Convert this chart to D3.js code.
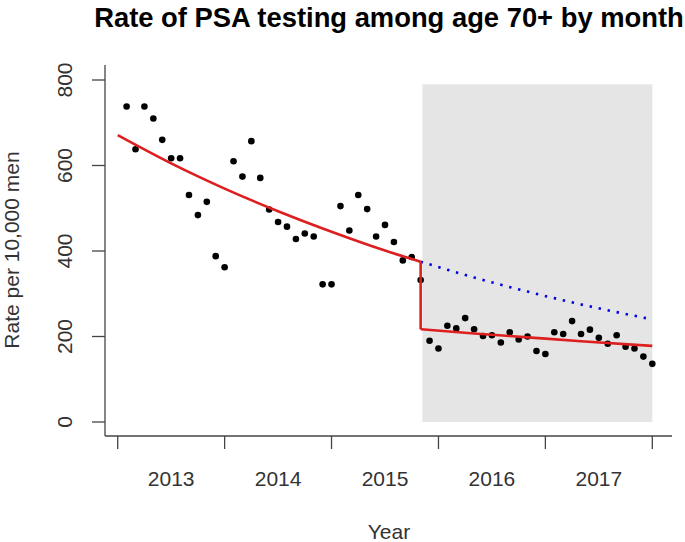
<!DOCTYPE html>
<html>
<head>
<meta charset="utf-8">
<script src="https://cdn.jsdelivr.net/npm/d3@7"></script>
<style>
  html, body { margin: 0; padding: 0; background: #fff; }
  svg { display: block; font-family: "Liberation Sans", Arial, sans-serif; }
</style>
</head>
<body>
<svg id="chart" width="685" height="542"></svg>
<script>
// ---- data (month index 1 = Jan 2013) ----
const months = d3.range(1, 61);
const rates = [
  738, 638, 738, 710, 660, 617, 617, 531, 484, 515, 388, 362,
  610, 574, 657, 571, 497, 468, 457, 428, 441, 434, 322, 322,
  505, 448, 531, 498, 434, 461, 421, 378, 386, 332,
  190, 172, 225, 219, 243, 217, 201, 203, 186, 210, 193, 200,
  166, 159, 210, 206, 236, 206, 216, 197, 183, 203, 176, 172, 153, 136
];
// fitted trend before the change
const preFitMonths = [0, 6, 12, 18, 24, 30, 34];
const preFitValues = [671, 605, 546, 493, 445, 401, 375];
// fitted trend after the change (red)
const postFitMonths = [34, 40, 46, 52, 60];
const postFitValues = [217, 207, 198, 189, 178];
// counterfactual trend (blue dotted)
const cfMonths = [34, 40, 46, 52, 56, 60];
const cfValues = [375, 338, 305, 275, 257, 240];
// shaded post period
const shadeStart = 34.2, shadeEnd = 60, shadeTop = 790;
// axes
const xTickMonths = [0, 12, 24, 36, 48, 60];
const xLabelMonths = [6, 18, 30, 42, 54];
const xLabels = ["2013", "2014", "2015", "2016", "2017"];
const yTicks = [0, 200, 400, 600, 800];

(function () {
const svg = d3.select("#chart");
const pL = 105, pR = 672, pT = 65, pB = 436;

const x = d3.scaleLinear().domain([0, 60]).range([117.7, 652.3]);
const y = d3.scaleLinear().domain([0, 800]).range([422, 80]);

// shaded region
svg.append("rect")
  .attr("x", x(shadeStart)).attr("y", y(shadeTop))
  .attr("width", x(shadeEnd) - x(shadeStart))
  .attr("height", y(0) - y(shadeTop))
  .attr("fill", "#e5e5e5");

// counterfactual
svg.append("path")
  .datum(cfMonths.map((m, i) => [m, cfValues[i]]))
  .attr("fill", "none").attr("stroke", "#0000e0")
  .attr("stroke-width", 2.6).attr("stroke-dasharray", "2.4,6.8")
  .attr("d", d3.line().x(d => x(d[0])).y(d => y(d[1])).curve(d3.curveMonotoneX));

// points
svg.append("g").selectAll("circle").data(months).join("circle")
  .attr("cx", d => x(d)).attr("cy", (d, i) => y(rates[i]))
  .attr("r", 3.3).attr("fill", "#000");

// fitted red line (pre, drop, post)
const red = "#dd1f1f";
svg.append("path")
  .datum(preFitMonths.map((m, i) => [m, preFitValues[i]]))
  .attr("fill", "none").attr("stroke", red).attr("stroke-width", 2.6)
  .attr("d", d3.line().x(d => x(d[0])).y(d => y(d[1])).curve(d3.curveMonotoneX));
svg.append("path")
  .datum([[preFitMonths[preFitMonths.length - 1], preFitValues[preFitValues.length - 1]], [postFitMonths[0], postFitValues[0]]])
  .attr("fill", "none").attr("stroke", red).attr("stroke-width", 2.6)
  .attr("d", d3.line().x(d => x(d[0])).y(d => y(d[1])));
svg.append("path")
  .datum(postFitMonths.map((m, i) => [m, postFitValues[i]]))
  .attr("fill", "none").attr("stroke", red).attr("stroke-width", 2.6)
  .attr("d", d3.line().x(d => x(d[0])).y(d => y(d[1])).curve(d3.curveMonotoneX));

// axes lines
const axCol = "#444";
svg.append("line").attr("x1", pL).attr("x2", pL).attr("y1", pT).attr("y2", pB)
  .attr("stroke", axCol).attr("stroke-width", 1.3);
svg.append("line").attr("x1", pL).attr("x2", pR).attr("y1", pB).attr("y2", pB)
  .attr("stroke", axCol).attr("stroke-width", 1.3);

// y ticks
const yg = svg.append("g");
yTicks.forEach(t => {
  yg.append("line").attr("x1", 92).attr("x2", pL).attr("y1", y(t)).attr("y2", y(t))
    .attr("stroke", axCol).attr("stroke-width", 1.3);
  yg.append("text").attr("transform", `translate(72,${y(t)}) rotate(-90)`)
    .attr("text-anchor", "middle").attr("font-size", 21).attr("fill", "#333")
    .text(t);
});

// x ticks
xTickMonths.forEach(m => {
  svg.append("line").attr("x1", x(m)).attr("x2", x(m)).attr("y1", pB).attr("y2", 449)
    .attr("stroke", axCol).attr("stroke-width", 1.3);
});
xLabelMonths.forEach((m, i) => {
  svg.append("text").attr("x", x(m)).attr("y", 486)
    .attr("text-anchor", "middle").attr("font-size", 21).attr("fill", "#333")
    .text(xLabels[i]);
});

// axis titles
svg.append("text").attr("x", 389).attr("y", 539).attr("text-anchor", "middle")
  .attr("font-size", 21).attr("fill", "#333").text("Year");
svg.append("text").attr("transform", "translate(19,250) rotate(-90)")
  .attr("text-anchor", "middle").attr("font-size", 21).attr("fill", "#333")
  .text("Rate per 10,000 men");

// title
const title = svg.append("text").attr("x", 389).attr("y", 27).attr("text-anchor", "middle")
  .attr("font-size", 24).attr("font-weight", "bold").attr("fill", "#000")
  .text("Rate of PSA testing among age 70+ by month");
const w = title.node().getComputedTextLength();
title.attr("font-size", 24 * 590 / w);
})();
</script>
</body>
</html>
